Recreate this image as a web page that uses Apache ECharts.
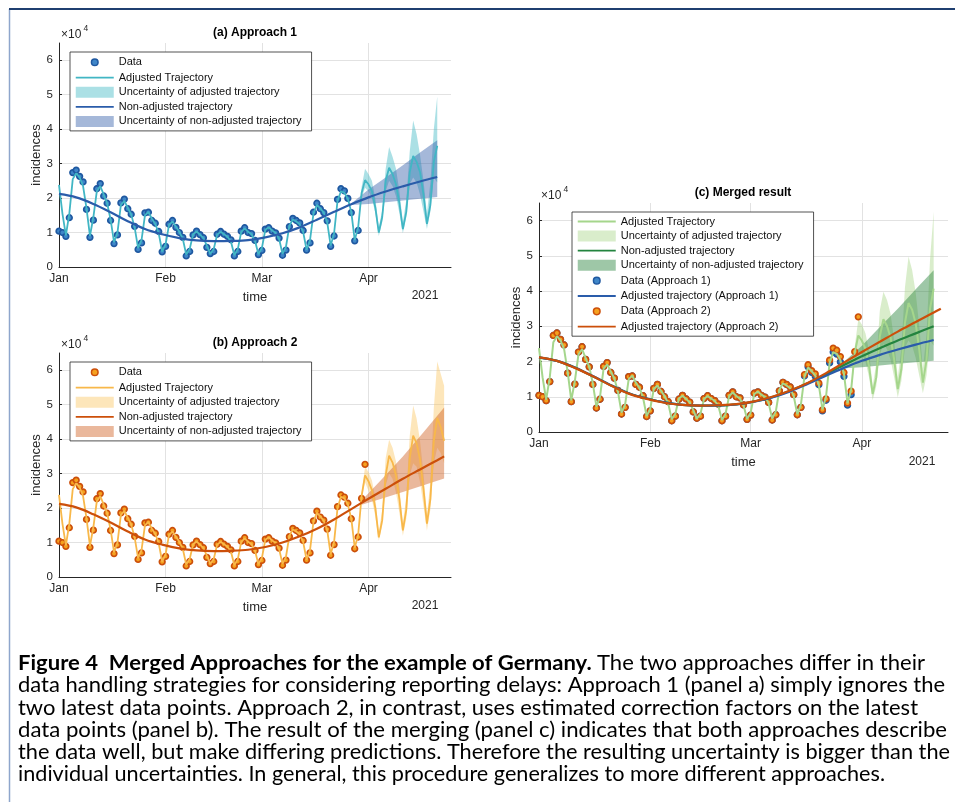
<!DOCTYPE html>
<html><head><meta charset="utf-8">
<script src="https://cdn.jsdelivr.net/npm/echarts@6/dist/echarts.min.js"></script>
<style>html,body{margin:0;padding:0;background:#fff}#c{width:955px;height:802px}</style>
</head><body><div id="c"></div>
<script>
// ---------------- data (values in units of 10^4 incidences) ----------------
const yearLabel = '2021';
const panelTitles = ['(a) Approach 1', '(b) Approach 2', '(c) Merged result'];
const axisEndDay = 114; // Apr 25
// observed daily data, days 0..73 (Jan 1 ..)
const dataCommon = [1.04,1.00,0.89,1.43,2.74,2.81,2.63,2.47,1.67,0.86,
 1.36,2.27,2.42,2.06,1.85,1.35,0.68,0.93,1.86,1.97,
 1.69,1.53,1.18,0.51,0.70,1.57,1.59,1.35,1.27,1.03,
 0.44,0.60,1.24,1.35,1.15,1.00,0.86,0.32,0.45,0.93,
 1.04,0.94,0.85,0.57,0.39,0.45,0.95,1.03,0.95,0.89,
 0.79,0.32,0.45,1.04,1.14,1.00,0.97,0.77,0.36,0.48,
 1.10,1.14,1.04,0.99,0.84,0.34,0.49,1.17,1.41,1.35,
 1.28,1.06,0.49,0.70];
// approach 1: days 74..87 ; approach 2 (corrected): days 74..89
const dataATail = [1.59,1.85,1.69,1.58,1.34,0.60,0.90,1.96,2.27,2.21,1.99,1.58,0.76,1.06];
const dataBTail = [1.63,1.91,1.74,1.65,1.39,0.63,0.94,2.04,2.38,2.32,2.14,1.69,0.82,1.16,2.28,3.27];
// adjusted (weekly) trajectory, common fit days 0..73
const fitCommon = [2.38,1.55,0.92,1.55,2.55,2.72,2.60,2.35,1.70,0.90,
 1.45,2.20,2.35,2.10,1.85,1.38,0.72,1.00,1.80,1.92,
 1.72,1.52,1.15,0.55,0.78,1.50,1.60,1.40,1.25,0.98,
 0.45,0.66,1.22,1.32,1.17,1.02,0.82,0.36,0.52,0.95,
 1.03,0.94,0.84,0.62,0.38,0.52,0.94,1.02,0.95,0.88,
 0.74,0.34,0.52,1.02,1.12,1.02,0.95,0.76,0.37,0.55,
 1.08,1.15,1.06,0.99,0.82,0.38,0.58,1.20,1.38,1.32,
 1.24,1.02,0.50,0.78];
const adjATail = [1.55,1.80,1.70,1.58,1.30,0.62,0.98,1.92,2.20,2.15,1.98,1.60,0.78,1.15,
 2.15,2.52,2.40,2.20,1.72,1.00,1.45,2.50,2.88,2.70,2.40,1.85,1.10,1.60,2.75,3.22,3.05,2.75,2.10,1.25,1.80,3.05,3.52];
const adjBTail = [1.60,1.86,1.76,1.63,1.36,0.66,1.02,2.00,2.33,2.28,2.10,1.70,0.85,1.22,2.35,2.95,
 2.78,2.52,2.00,1.15,1.65,2.95,3.52,3.32,2.95,2.25,1.35,1.95,3.45,4.10,3.88,3.40,2.55,1.55,2.25,3.95,4.62,4.35,3.95];
const adjCTail = [1.58,1.83,1.73,1.60,1.33,0.64,1.00,1.96,2.27,2.22,2.04,1.65,0.82,1.19,
 2.25,2.74,2.59,2.36,1.86,1.08,1.55,2.72,3.20,3.01,2.68,2.05,1.22,1.78,3.10,3.66,3.47,3.08,2.33,1.40,2.03,3.50,4.07];
// uncertainty of adjusted trajectories
const bandAdjAStart = 87;
const bandAdjALow = [1.12,2.00,2.30,2.20,2.00,1.55,0.90,1.30,2.20,2.50,2.35,2.05,1.55,0.98,1.45,2.40,2.60,2.45,2.10,1.60,1.10,1.60,2.60,2.45];
const bandAdjAHigh = [1.18,2.32,2.85,2.70,2.50,1.98,1.15,1.65,2.85,3.48,3.20,2.85,2.20,1.30,1.95,3.35,4.25,3.85,3.25,2.50,1.55,2.45,4.00,4.95];
const bandAdjBStart = 88;
const bandAdjBLow = [2.28,2.75,2.50,2.25,1.75,1.05,1.50,2.65,3.00,2.85,2.45,1.85,1.20,1.70,2.95,3.30,3.20,2.75,2.05,1.35,1.95,3.30,3.75,3.60,3.30];
const bandAdjBHigh = [2.42,3.20,3.05,2.80,2.30,1.30,1.95,3.45,3.98,3.75,3.35,2.60,1.55,2.35,4.10,4.98,4.60,3.95,3.00,1.80,2.75,4.90,6.25,5.90,5.55];
const bandAdjCStart = 87;
const bandAdjCLow = [1.15,2.00,2.30,2.20,2.00,1.55,0.90,1.30,2.20,2.50,2.35,2.05,1.55,0.98,1.45,2.40,2.60,2.45,2.10,1.60,1.10,1.60,2.60,2.45];
const bandAdjCHigh = [1.25,2.42,3.20,3.05,2.80,2.30,1.30,1.95,3.45,3.98,3.75,3.35,2.60,1.55,2.35,4.10,4.98,4.60,3.95,3.00,1.80,2.75,4.90,6.25];
// non-adjusted (smooth) trajectories
const trendDays = [0,5,10,15,20,25,30,35,40,45,50,55,60,65,70,75,80,85,90,95,100,105,110];
const trendDaysB = [0,5,10,15,20,25,30,35,40,45,50,55,60,65,70,75,80,85,90,95,100,105,110,112];
const nonAdjA = [2.12,2.02,1.83,1.59,1.33,1.10,0.95,0.84,0.77,0.75,0.755,0.78,0.86,0.98,1.15,1.37,1.60,1.82,2.02,2.19,2.34,2.48,2.61];
const nonAdjB = [2.12,2.02,1.82,1.58,1.32,1.09,0.94,0.83,0.77,0.75,0.76,0.79,0.87,1.00,1.18,1.40,1.67,1.97,2.27,2.56,2.85,3.12,3.39,3.50];
const nonAdjC = [2.12,2.02,1.83,1.58,1.33,1.10,0.95,0.84,0.77,0.75,0.755,0.785,0.865,0.99,1.17,1.39,1.64,1.90,2.15,2.38,2.60,2.80,3.00];
// uncertainty of non-adjusted trajectories
const bandNonADays = [85,90,95,100,105,110];
const bandNonALow = [1.80,1.83,1.88,1.93,1.98,2.03];
const bandNonAHigh = [1.84,2.25,2.60,2.95,3.32,3.68];
const bandNonBDays = [88,94,100,106,112];
const bandNonBLow = [2.10,2.28,2.47,2.66,2.86];
const bandNonBHigh = [2.22,2.85,3.50,4.20,4.92];
const bandNonCDays = [84,90,95,100,105,110];
const bandNonCLow = [1.80,1.84,1.89,1.94,1.98,2.02];
const bandNonCHigh = [1.90,2.45,2.98,3.50,4.05,4.59];
const captionBold = 'Figure 4  Merged Approaches for the example of Germany.';
const captionLines = [
 'The two approaches differ in their',
 'data handling strategies for considering reporting delays: Approach 1 (panel a) simply ignores the',
 'two latest data points. Approach 2, in contrast, uses estimated correction factors on the latest',
 'data points (panel b). The result of the merging (panel c) indicates that both approaches describe',
 'the data well, but make differing predictions. Therefore the resulting uncertainty is bigger than the',
 'individual uncertainties. In general, this procedure generalizes to more different approaches.'
];

// ---------------- helpers ----------------
const FONT = '"Liberation Sans", Arial, sans-serif';
const TXT = '#262626';
const DAY = 86400000;
const T0 = Date.UTC(2021, 0, 1);
const t = d => T0 + d * DAY;
const daily = (start, vals) => vals.map((v, i) => [t(start + i), v]);
const sampled = (days, vals) => days.map((d, i) => [t(d), vals[i]]);

function lineS(name, gi, data, color, width, smooth) {
  return {type: 'line', name, xAxisIndex: gi, yAxisIndex: gi, data,
    showSymbol: false, symbol: 'none', smooth: smooth ? 0.35 : false, silent: true,
    lineStyle: {color, width}, itemStyle: {color}};
}
function dotS(name, gi, data, fill, border) {
  return {type: 'scatter', name, xAxisIndex: gi, yAxisIndex: gi, data, symbolSize: 5.6, silent: true,
    itemStyle: {color: fill, borderColor: border, borderWidth: 1.7, opacity: 1}};
}
function bandS(name, gi, days, low, high, color) {
  const data = days.map((d, i) => [t(d), low[i], high[i]]);
  return {type: 'custom', name, xAxisIndex: gi, yAxisIndex: gi, data, silent: true, clip: true,
    encode: {x: 0, y: [1, 2]}, itemStyle: {color},
    renderItem: function (params, api) {
      if (params.dataIndex !== 0) return null;
      const top = [], bot = [];
      for (let i = 0; i < data.length; i++) {
        top.push(api.coord([data[i][0], data[i][2]]));
        bot.push(api.coord([data[i][0], data[i][1]]));
      }
      return {type: 'polygon', shape: {points: top.concat(bot.reverse())}, style: {fill: color}};
    }};
}
const range = (a, n) => Array.from({length: n}, (_, i) => a + i);

function xAxisFor(gi) {
  return {type: 'time', gridIndex: gi, min: t(0), max: t(axisEndDay), splitNumber: 3,
    axisLine: {show: true, lineStyle: {color: TXT, width: 1}},
    axisTick: {show: false},
    axisLabel: {formatter: '{MMM}', color: TXT, fontSize: 12, margin: 6, showMaxLabel: false, fontFamily: FONT},
    splitLine: {show: true, showMinLine: false, showMaxLine: false, lineStyle: {color: '#e2e2e2', width: 1}},
    name: 'time', nameLocation: 'middle', nameGap: 24,
    nameTextStyle: {fontSize: 13, color: TXT, fontFamily: FONT}};
}
function yAxisFor(gi) {
  return {type: 'value', gridIndex: gi, min: 0, max: 6.5, interval: 1,
    axisLine: {show: true, lineStyle: {color: TXT, width: 1}},
    axisTick: {show: true, inside: true, length: 3, lineStyle: {color: TXT}},
    axisLabel: {color: TXT, fontSize: 11.5, margin: 6, showMaxLabel: false, fontFamily: FONT},
    splitLine: {show: true, showMaxLine: false, lineStyle: {color: '#e2e2e2', width: 1}},
    name: 'incidences', nameLocation: 'middle', nameGap: 16,
    nameTextStyle: {fontSize: 13, color: TXT, fontFamily: FONT}};
}

const C = {
  cyan: '#41b6c4', cyanBand: 'rgba(80,190,200,0.48)',
  navy: '#2a5caa', navyBand: 'rgba(40,85,165,0.42)',
  dotA: '#3f86c8', dotAEdge: '#1f58a0',
  yellow: '#f8b84a', yellowBand: 'rgba(250,195,90,0.42)',
  rust: '#cc4f0a', rustBand: 'rgba(205,85,20,0.42)',
  dotB: '#f5a11f', dotBEdge: '#cc4f0a',
  lgreen: '#a5d68c', lgreenBand: 'rgba(170,215,140,0.45)',
  dgreen: '#23843f', dgreenBand: 'rgba(40,130,60,0.45)'
};

const sB = '\u200b', sC = '\u200b\u200b';
const N = {
  data: 'Data', adj: 'Adjusted Trajectory', uadj: 'Uncertainty of adjusted trajectory',
  non: 'Non-adjusted trajectory', unon: 'Uncertainty of non-adjusted trajectory',
  d1: 'Data (Approach 1)', a1: 'Adjusted trajectory (Approach 1)',
  d2: 'Data (Approach 2)', a2: 'Adjusted trajectory (Approach 2)'
};

const dataA = dataCommon.concat(dataATail);
const dataB = dataCommon.concat(dataBTail);
const adjA = fitCommon.concat(adjATail);
const adjB = fitCommon.concat(adjBTail);
const adjC = fitCommon.concat(adjCTail);

const series = [
  // panel a
  bandS(N.uadj, 0, range(bandAdjAStart, bandAdjALow.length), bandAdjALow, bandAdjAHigh, C.cyanBand),
  lineS(N.adj, 0, daily(0, adjA), C.cyan, 1.8, false),
  bandS(N.unon, 0, bandNonADays, bandNonALow, bandNonAHigh, C.navyBand),
  lineS(N.non, 0, sampled(trendDays, nonAdjA), C.navy, 2.2, true),
  dotS(N.data, 0, daily(0, dataA), C.dotA, C.dotAEdge),
  // panel b
  bandS(N.uadj + sB, 1, range(bandAdjBStart, bandAdjBLow.length), bandAdjBLow, bandAdjBHigh, C.yellowBand),
  lineS(N.adj + sB, 1, daily(0, adjB), C.yellow, 1.8, false),
  bandS(N.unon + sB, 1, bandNonBDays, bandNonBLow, bandNonBHigh, C.rustBand),
  lineS(N.non + sB, 1, sampled(trendDaysB, nonAdjB), C.rust, 2.2, true),
  dotS(N.data + sB, 1, daily(0, dataB), C.dotB, C.dotBEdge),
  // panel c
  bandS(N.uadj + sC, 2, range(bandAdjCStart, bandAdjCLow.length), bandAdjCLow, bandAdjCHigh, C.lgreenBand),
  lineS(N.adj + sC, 2, daily(0, adjC), C.lgreen, 2, false),
  bandS(N.unon + sC, 2, bandNonCDays, bandNonCLow, bandNonCHigh, C.dgreenBand),
  lineS(N.non + sC, 2, sampled(trendDays, nonAdjC), C.dgreen, 2.2, true),
  dotS(N.d1, 2, daily(0, dataA), C.dotA, C.dotAEdge),
  lineS(N.a1, 2, sampled(trendDays, nonAdjA), C.navy, 2.2, true),
  dotS(N.d2, 2, daily(0, dataB), C.dotB, C.dotBEdge),
  lineS(N.a2, 2, sampled(trendDaysB, nonAdjB), C.rust, 2.2, true)
];

const dotIcon = 'path://M0,0M38,11M22.3,5.5A3.3,3.3,0,1,1,15.7,5.5A3.3,3.3,0,1,1,22.3,5.5Z';
const lineIcon = 'path://M0,0M38,11M0,4.6L38,4.6L38,6.4L0,6.4Z';
function legendItem(name, kind) {
  if (kind === 'dot') return {name, icon: dotIcon, itemStyle: {borderWidth: 1.5}};
  if (kind === 'line') return {name, icon: lineIcon};
  return {name, icon: 'rect'};
}
function legendFor(left, top, items) {
  return {orient: 'vertical', left, top, itemWidth: 38, itemHeight: 11, itemGap: 3.6,
    padding: [4, 10, 4, 5], backgroundColor: '#fff', borderColor: '#262626', borderWidth: 0.8,
    borderRadius: 0, selectedMode: false, itemStyle: {borderWidth: 0},
    textStyle: {fontSize: 11, color: '#111', lineHeight: 11, fontFamily: FONT},
    formatter: n => n.replace(/\u200b/g, ''),
    data: items.map(it => legendItem(it[0], it[1]))};
}

const legends = [
  legendFor(70, 52, [[N.data, 'dot'], [N.adj, 'line'], [N.uadj, 'rect'], [N.non, 'line'], [N.unon, 'rect']]),
  legendFor(70, 362, [[N.data + sB, 'dot'], [N.adj + sB, 'line'], [N.uadj + sB, 'rect'], [N.non + sB, 'line'], [N.unon + sB, 'rect']]),
  legendFor(572, 212, [[N.adj + sC, 'line'], [N.uadj + sC, 'rect'], [N.non + sC, 'line'], [N.unon + sC, 'rect'],
    [N.d1, 'dot'], [N.a1, 'line'], [N.d2, 'dot'], [N.a2, 'line']])
];

// caption: fixed font size, each line fitted to the reference line length
const CAPFONT = 'Lato, "Open Sans", sans-serif';
const CAPSIZE = 20.5;
const capRight = [925, 945, 918, 947, 950, 885];
const capY = [663, 685, 708, 730, 752, 774];
const mctx = document.createElement('canvas').getContext('2d');
function measure(str, bold) {
  mctx.font = (bold ? 'bold ' : '') + CAPSIZE + 'px ' + CAPFONT;
  return mctx.measureText(str).width;
}

function txt(text, x, y, size, align, weight, color) {
  return {type: 'text', x, y, silent: true, z: 100,
    style: {text, fontSize: size, fontFamily: FONT, fontWeight: weight || 'normal',
      fill: color || TXT, align: align || 'left', verticalAlign: 'middle'}};
}

const graphic = [
  {type: 'line', shape: {x1: 9.5, y1: 9, x2: 9.5, y2: 802}, style: {stroke: '#8ea6cc', lineWidth: 1.5}, silent: true},
  {type: 'line', shape: {x1: 9, y1: 9, x2: 955, y2: 9}, style: {stroke: '#1f3f70', lineWidth: 2}, silent: true},
  txt(panelTitles[0], 255, 33, 12, 'center', 'bold', '#000'),
  txt(panelTitles[1], 255, 343, 12, 'center', 'bold', '#000'),
  txt(panelTitles[2], 743, 193, 12, 'center', 'bold', '#000'),
  txt('\u00d710', 61, 35, 12, 'left'), txt('4', 83.5, 28.5, 8.5, 'left'),
  txt('\u00d710', 61, 345, 12, 'left'), txt('4', 83.5, 338.5, 8.5, 'left'),
  txt('\u00d710', 541, 196, 12, 'left'), txt('4', 563.5, 189.5, 8.5, 'left'),
  txt(yearLabel, 425, 296, 12, 'center'),
  txt(yearLabel, 425, 606, 12, 'center'),
  txt(yearLabel, 922, 462, 12, 'center')
];
{
  const w0 = measure(captionBold + ' ', true) + measure(captionLines[0], false);
  graphic.push({type: 'text', x: 18, y: capY[0], silent: true, scaleX: (capRight[0] - 18) / w0,
    style: {text: '{b|' + captionBold + ' }' + captionLines[0], fontSize: CAPSIZE, fontFamily: CAPFONT,
      fill: '#000', verticalAlign: 'middle',
      rich: {b: {fontWeight: 'bold', fontSize: CAPSIZE, fontFamily: CAPFONT, fill: '#000'}}}});
}
for (let i = 1; i < captionLines.length; i++) {
  const w = measure(captionLines[i], false);
  graphic.push({type: 'text', x: 18, y: capY[i], silent: true, scaleX: (capRight[i] - 18) / w,
    style: {text: captionLines[i], fontSize: CAPSIZE, fontFamily: CAPFONT, fill: '#000', verticalAlign: 'middle'}});
}

const chart = echarts.init(document.getElementById('c'), null, {renderer: 'canvas'});
chart.setOption({
  animation: false,
  useUTC: true,
  backgroundColor: '#fff',
  textStyle: {fontFamily: FONT},
  grid: [
    {left: 59, top: 43, width: 392, height: 224, outerBoundsMode: 'none'},
    {left: 59, top: 353, width: 392, height: 224, outerBoundsMode: 'none'},
    {left: 539, top: 203, width: 409, height: 229, outerBoundsMode: 'none'}
  ],
  xAxis: [0, 1, 2].map(xAxisFor),
  yAxis: [0, 1, 2].map(yAxisFor),
  legend: legends,
  series,
  graphic
});
</script></body></html>
